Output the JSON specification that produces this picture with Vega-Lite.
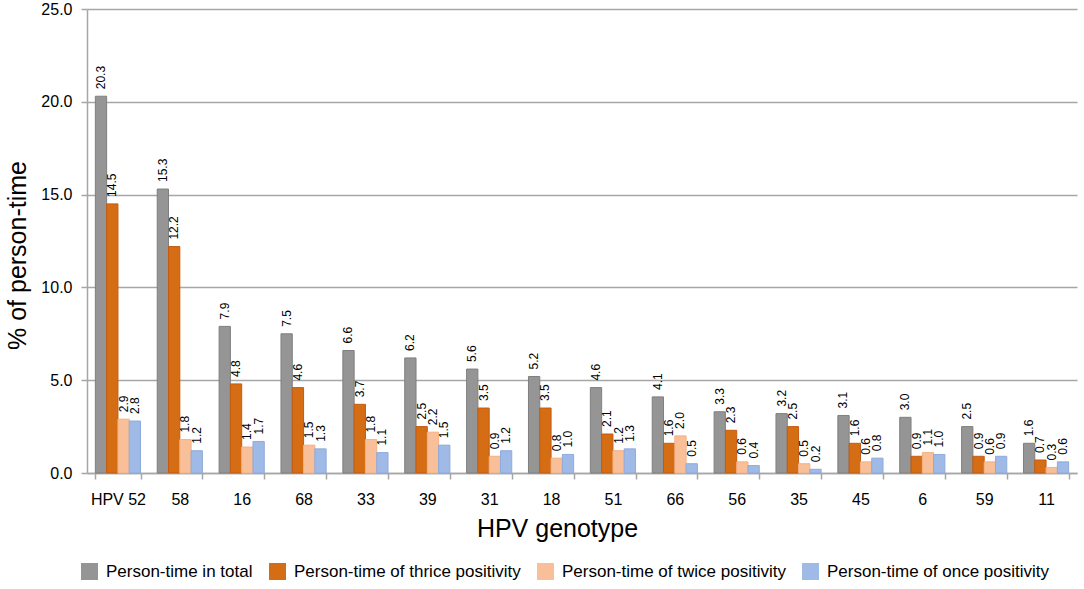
{
  "$schema": "https://vega.github.io/schema/vega-lite/v6.json",
  "width": 990,
  "height": 464,
  "autosize": {"type": "none"},
  "padding": {"left": 87, "top": 9, "right": 7, "bottom": 116},
  "background": "white",
  "config": {"font": "Liberation Sans", "view": {"stroke": null}},
  "data": {"values": [
    {"g": "HPV 52", "s": "Person-time in total", "v": 20.3},
    {"g": "HPV 52", "s": "Person-time of thrice positivity", "v": 14.5},
    {"g": "HPV 52", "s": "Person-time of twice positivity", "v": 2.9},
    {"g": "HPV 52", "s": "Person-time of once positivity", "v": 2.8},
    {"g": "58", "s": "Person-time in total", "v": 15.3},
    {"g": "58", "s": "Person-time of thrice positivity", "v": 12.2},
    {"g": "58", "s": "Person-time of twice positivity", "v": 1.8},
    {"g": "58", "s": "Person-time of once positivity", "v": 1.2},
    {"g": "16", "s": "Person-time in total", "v": 7.9},
    {"g": "16", "s": "Person-time of thrice positivity", "v": 4.8},
    {"g": "16", "s": "Person-time of twice positivity", "v": 1.4},
    {"g": "16", "s": "Person-time of once positivity", "v": 1.7},
    {"g": "68", "s": "Person-time in total", "v": 7.5},
    {"g": "68", "s": "Person-time of thrice positivity", "v": 4.6},
    {"g": "68", "s": "Person-time of twice positivity", "v": 1.5},
    {"g": "68", "s": "Person-time of once positivity", "v": 1.3},
    {"g": "33", "s": "Person-time in total", "v": 6.6},
    {"g": "33", "s": "Person-time of thrice positivity", "v": 3.7},
    {"g": "33", "s": "Person-time of twice positivity", "v": 1.8},
    {"g": "33", "s": "Person-time of once positivity", "v": 1.1},
    {"g": "39", "s": "Person-time in total", "v": 6.2},
    {"g": "39", "s": "Person-time of thrice positivity", "v": 2.5},
    {"g": "39", "s": "Person-time of twice positivity", "v": 2.2},
    {"g": "39", "s": "Person-time of once positivity", "v": 1.5},
    {"g": "31", "s": "Person-time in total", "v": 5.6},
    {"g": "31", "s": "Person-time of thrice positivity", "v": 3.5},
    {"g": "31", "s": "Person-time of twice positivity", "v": 0.9},
    {"g": "31", "s": "Person-time of once positivity", "v": 1.2},
    {"g": "18", "s": "Person-time in total", "v": 5.2},
    {"g": "18", "s": "Person-time of thrice positivity", "v": 3.5},
    {"g": "18", "s": "Person-time of twice positivity", "v": 0.8},
    {"g": "18", "s": "Person-time of once positivity", "v": 1.0},
    {"g": "51", "s": "Person-time in total", "v": 4.6},
    {"g": "51", "s": "Person-time of thrice positivity", "v": 2.1},
    {"g": "51", "s": "Person-time of twice positivity", "v": 1.2},
    {"g": "51", "s": "Person-time of once positivity", "v": 1.3},
    {"g": "66", "s": "Person-time in total", "v": 4.1},
    {"g": "66", "s": "Person-time of thrice positivity", "v": 1.6},
    {"g": "66", "s": "Person-time of twice positivity", "v": 2.0},
    {"g": "66", "s": "Person-time of once positivity", "v": 0.5},
    {"g": "56", "s": "Person-time in total", "v": 3.3},
    {"g": "56", "s": "Person-time of thrice positivity", "v": 2.3},
    {"g": "56", "s": "Person-time of twice positivity", "v": 0.6},
    {"g": "56", "s": "Person-time of once positivity", "v": 0.4},
    {"g": "35", "s": "Person-time in total", "v": 3.2},
    {"g": "35", "s": "Person-time of thrice positivity", "v": 2.5},
    {"g": "35", "s": "Person-time of twice positivity", "v": 0.5},
    {"g": "35", "s": "Person-time of once positivity", "v": 0.2},
    {"g": "45", "s": "Person-time in total", "v": 3.1},
    {"g": "45", "s": "Person-time of thrice positivity", "v": 1.6},
    {"g": "45", "s": "Person-time of twice positivity", "v": 0.6},
    {"g": "45", "s": "Person-time of once positivity", "v": 0.8},
    {"g": "6", "s": "Person-time in total", "v": 3.0},
    {"g": "6", "s": "Person-time of thrice positivity", "v": 0.9},
    {"g": "6", "s": "Person-time of twice positivity", "v": 1.1},
    {"g": "6", "s": "Person-time of once positivity", "v": 1.0},
    {"g": "59", "s": "Person-time in total", "v": 2.5},
    {"g": "59", "s": "Person-time of thrice positivity", "v": 0.9},
    {"g": "59", "s": "Person-time of twice positivity", "v": 0.6},
    {"g": "59", "s": "Person-time of once positivity", "v": 0.9},
    {"g": "11", "s": "Person-time in total", "v": 1.6},
    {"g": "11", "s": "Person-time of thrice positivity", "v": 0.7},
    {"g": "11", "s": "Person-time of twice positivity", "v": 0.3},
    {"g": "11", "s": "Person-time of once positivity", "v": 0.6}
  ]},
  "encoding": {
    "x": {
      "field": "g", "type": "nominal", "sort": null,
      "scale": {"paddingInner": 0.27, "paddingOuter": 0.135},
      "axis": {
        "title": "HPV genotype", "titleFontSize": 25, "titleFontWeight": "normal", "titleColor": "#000",
        "titlePadding": 9, "titleX": 470,
        "labelAngle": 0, "labelFontSize": 16, "labelColor": "#000", "labelPadding": 12,
        "tickBand": "extent", "tickSize": 6, "tickColor": "#a6a6a6", "tickWidth": 1.5,
        "domainColor": "#a6a6a6", "domainWidth": 1.5, "grid": false
      }
    },
    "xOffset": {"field": "s", "sort": ["Person-time in total", "Person-time of thrice positivity", "Person-time of twice positivity", "Person-time of once positivity"]},
    "y": {
      "field": "v", "type": "quantitative",
      "scale": {"domain": [0, 25], "nice": false},
      "axis": {
        "title": "% of person-time", "titleFontSize": 25, "titleFontWeight": "normal", "titleColor": "#000",
        "titleX": -57, "titleY": 246, "titleBaseline": "bottom",
        "values": [0, 5, 10, 15, 20, 25], "format": ".1f",
        "labelFontSize": 16, "labelColor": "#000", "labelPadding": 9,
        "tickSize": 6, "tickColor": "#a6a6a6", "tickWidth": 1.5,
        "domainColor": "#a6a6a6", "domainWidth": 1.5,
        "grid": true, "gridColor": "#a6a6a6", "gridWidth": 1.5
      }
    }
  },
  "layer": [
    {
      "mark": {"type": "bar", "strokeWidth": 1},
      "encoding": {
        "color": {
          "field": "s", "type": "nominal",
          "sort": ["Person-time in total", "Person-time of thrice positivity", "Person-time of twice positivity", "Person-time of once positivity"],
          "scale": {
            "domain": ["Person-time in total", "Person-time of thrice positivity", "Person-time of twice positivity", "Person-time of once positivity"],
            "range": ["#959595", "#d46d13", "#f8bf98", "#9fbae6"]
          },
          "legend": {
            "title": null, "orient": "none", "direction": "horizontal",
            "legendX": -6, "legendY": 554,
            "symbolType": "square", "symbolSize": 289, "symbolStrokeWidth": 0, "symbolOpacity": 1,
            "labelFontSize": 17, "labelColor": "#000", "labelOffset": 8, "columnPadding": 16,
            "labelLimit": 400
          }
        },
        "stroke": {
          "field": "s", "type": "nominal",
          "scale": {
            "domain": ["Person-time in total", "Person-time of thrice positivity", "Person-time of twice positivity", "Person-time of once positivity"],
            "range": ["#7f7f7f", "#c55a11", "#f4b183", "#8faadc"]
          },
          "legend": null
        }
      }
    },
    {
      "mark": {"type": "text", "angle": 270, "align": "left", "baseline": "middle", "dx": 7, "fontSize": 12, "color": "#000"},
      "encoding": {
        "text": {"field": "v", "type": "quantitative", "format": ".1f"}
      }
    }
  ]
}
